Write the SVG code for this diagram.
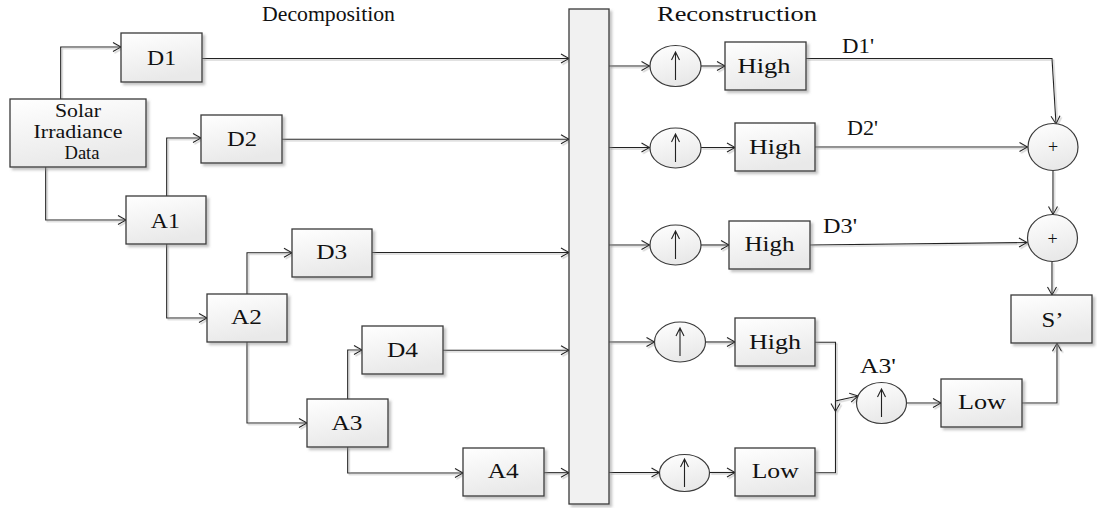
<svg xmlns="http://www.w3.org/2000/svg" xmlns:xlink="http://www.w3.org/1999/xlink" width="1097" height="508" viewBox="0 0 1097 508">
<style>
.box{fill:url(#g);stroke:#3a3a3a;stroke-width:1.3}
.bar{fill:#f1f1f1;stroke:#3a3a3a;stroke-width:1.3}
.circ{fill:url(#g);stroke:#3a3a3a;stroke-width:1.2}
.t{font-family:"Liberation Serif","Times New Roman",serif;font-size:21px;fill:#111;text-anchor:middle}
.ts{font-family:"Liberation Serif","Times New Roman",serif;font-size:18px;fill:#111;text-anchor:middle}
.h{font-family:"Liberation Serif","Times New Roman",serif;font-size:21px;fill:#111}
.c path{fill:none;stroke:#222;stroke-width:1.1}
.arr{fill:none;stroke:#222;stroke-width:1.1}
</style>
<defs>
<linearGradient id="g" x1="0" y1="0" x2="0.3" y2="1">
<stop offset="0" stop-color="#ffffff"/>
<stop offset="1" stop-color="#e9e9e9"/>
</linearGradient>
<filter id="sh" x="-10%" y="-10%" width="130%" height="130%">
<feDropShadow dx="2.5" dy="2.5" stdDeviation="0.8" flood-color="#888" flood-opacity="0.5"/>
</filter>
<filter id="lsh" x="-5%" y="-5%" width="110%" height="110%">
<feDropShadow dx="1.5" dy="1.5" stdDeviation="0.4" flood-color="#aaa" flood-opacity="0.7"/>
</filter>
<marker id="a" viewBox="-10 -6 12 12" refX="0" refY="0" markerWidth="12" markerHeight="12" markerUnits="userSpaceOnUse" orient="auto">
<path d="M-8,-4.5 L0,0 L-8,4.5" fill="none" stroke="#222" stroke-width="1.1"/>
</marker>
<g id="up"><path d="M0,14 V-14 M-4,-6 L0,-14 L4,-6" class="arr"/></g>
</defs>

<text class="h" x="262" y="21" textLength="133" lengthAdjust="spacingAndGlyphs">Decomposition</text>
<text class="h" x="657" y="21" textLength="160" lengthAdjust="spacingAndGlyphs">Reconstruction</text>

<g id="connectors" class="c" filter="url(#lsh)">
<path d="M60.7,99 V47 H121" marker-end="url(#a)"/>
<path d="M45.7,167 V220 H126" marker-end="url(#a)"/>
<path d="M166.7,196 V138 H201" marker-end="url(#a)"/>
<path d="M166.7,244 V318 H207" marker-end="url(#a)"/>
<path d="M247,294 V252.7 H292" marker-end="url(#a)"/>
<path d="M247,342 V423 H307" marker-end="url(#a)"/>
<path d="M347.7,399 V350 H362" marker-end="url(#a)"/>
<path d="M347.7,447 V473 H463" marker-end="url(#a)"/>
<path d="M202,58.5 H569" marker-end="url(#a)"/>
<path d="M282,139.3 H569" marker-end="url(#a)"/>
<path d="M372,252.5 H569" marker-end="url(#a)"/>
<path d="M443,350.3 H569" marker-end="url(#a)"/>
<path d="M544,472.7 H569" marker-end="url(#a)"/>
<path d="M609,66 H649.5" marker-end="url(#a)"/>
<path d="M609,147.5 H649.5" marker-end="url(#a)"/>
<path d="M609,245 H649.5" marker-end="url(#a)"/>
<path d="M609,342 H654.5" marker-end="url(#a)"/>
<path d="M609,472.5 H659.5" marker-end="url(#a)"/>
<path d="M700.5,66 H725" marker-end="url(#a)"/>
<path d="M700.5,147.5 H735" marker-end="url(#a)"/>
<path d="M700.5,245 H729" marker-end="url(#a)"/>
<path d="M705.5,342 H735" marker-end="url(#a)"/>
<path d="M709.5,472.5 H735" marker-end="url(#a)"/>
<path d="M806,58.5 H1052 L1056,124" marker-end="url(#a)"/>
<path d="M815,147 H1027.5" marker-end="url(#a)"/>
<path d="M810,245 L1027,242.5" marker-end="url(#a)"/>
<path d="M1053,170.5 V214.5" marker-end="url(#a)"/>
<path d="M1052,261.5 V295" marker-end="url(#a)"/>
<path d="M815,342.3 H835.5 V411.5" marker-end="url(#a)"/>
<path d="M815,472.7 H835.5 V401 L858,396" marker-end="url(#a)"/>
<path d="M906.5,403 H941" marker-end="url(#a)"/>
<path d="M1022,403 H1057 V343.3" marker-end="url(#a)"/>
</g>

<g id="solar"><rect class="box" filter="url(#sh)" x="10" y="99" width="136" height="68"/>
<text class="ts" x="78" y="117.3" textLength="46" lengthAdjust="spacingAndGlyphs">Solar</text>
<text class="ts" x="78" y="138.3" textLength="89" lengthAdjust="spacingAndGlyphs">Irradiance</text>
<text class="ts" x="82" y="159.3" textLength="35" lengthAdjust="spacingAndGlyphs">Data</text></g>
<g id="D1"><rect class="box" filter="url(#sh)" x="121" y="33" width="81" height="49"/><text class="t" x="161.5" y="65" textLength="29" lengthAdjust="spacingAndGlyphs">D1</text></g>
<g id="D2"><rect class="box" filter="url(#sh)" x="201" y="115" width="81" height="48"/><text class="t" x="242" y="145.7" textLength="30" lengthAdjust="spacingAndGlyphs">D2</text></g>
<g id="A1"><rect class="box" filter="url(#sh)" x="126" y="196" width="80" height="48"/><text class="t" x="165.3" y="227.5" textLength="29" lengthAdjust="spacingAndGlyphs">A1</text></g>
<g id="D3"><rect class="box" filter="url(#sh)" x="292" y="229" width="80" height="48"/><text class="t" x="331.7" y="259" textLength="31" lengthAdjust="spacingAndGlyphs">D3</text></g>
<g id="A2"><rect class="box" filter="url(#sh)" x="207" y="294" width="80" height="48"/><text class="t" x="246.5" y="324" textLength="31" lengthAdjust="spacingAndGlyphs">A2</text></g>
<g id="D4"><rect class="box" filter="url(#sh)" x="362" y="326" width="81" height="48"/><text class="t" x="402.5" y="356.7" textLength="31" lengthAdjust="spacingAndGlyphs">D4</text></g>
<g id="A3"><rect class="box" filter="url(#sh)" x="307" y="399" width="81" height="48"/><text class="t" x="347" y="430" textLength="31" lengthAdjust="spacingAndGlyphs">A3</text></g>
<g id="A4"><rect class="box" filter="url(#sh)" x="463" y="448" width="81" height="48"/><text class="t" x="503.3" y="478.3" textLength="31" lengthAdjust="spacingAndGlyphs">A4</text></g>

<g id="bar"><rect class="bar" filter="url(#sh)" x="569" y="9" width="40" height="495"/></g>

<g id="up1"><ellipse class="circ" cx="675.5" cy="66" rx="25.5" ry="20.5"/><use xlink:href="#up" x="675.5" y="66"/></g>
<g id="up2"><ellipse class="circ" cx="675.5" cy="148" rx="25.5" ry="20"/><use xlink:href="#up" x="675.5" y="148"/></g>
<g id="up3"><ellipse class="circ" cx="675.5" cy="245" rx="25.5" ry="20"/><use xlink:href="#up" x="675.5" y="245"/></g>
<g id="up4"><ellipse class="circ" cx="680" cy="342" rx="25.5" ry="20"/><use xlink:href="#up" x="680" y="342"/></g>
<g id="up5"><ellipse class="circ" cx="684.5" cy="473" rx="25" ry="18.5"/><use xlink:href="#up" x="684.5" y="473"/></g>
<g id="up6"><ellipse class="circ" cx="881.5" cy="403" rx="25" ry="20.5"/><use xlink:href="#up" x="881.5" y="403"/></g>

<g id="high1"><rect class="box" filter="url(#sh)" x="725" y="42" width="81" height="48"/><text class="t" x="764" y="73" textLength="53" lengthAdjust="spacingAndGlyphs">High</text></g>
<g id="high2"><rect class="box" filter="url(#sh)" x="735" y="123" width="80" height="48"/><text class="t" x="775" y="154" textLength="52" lengthAdjust="spacingAndGlyphs">High</text></g>
<g id="high3"><rect class="box" filter="url(#sh)" x="729" y="221" width="81" height="48"/><text class="t" x="769.5" y="251" textLength="50" lengthAdjust="spacingAndGlyphs">High</text></g>
<g id="high4"><rect class="box" filter="url(#sh)" x="735" y="318" width="80" height="48"/><text class="t" x="775" y="349" textLength="52" lengthAdjust="spacingAndGlyphs">High</text></g>
<g id="low1"><rect class="box" filter="url(#sh)" x="735" y="448" width="80" height="48"/><text class="t" x="775.2" y="478.3" textLength="47" lengthAdjust="spacingAndGlyphs">Low</text></g>
<g id="low2"><rect class="box" filter="url(#sh)" x="941" y="379" width="81" height="48"/><text class="t" x="982" y="409.3" textLength="48" lengthAdjust="spacingAndGlyphs">Low</text></g>

<g id="plus1"><ellipse class="circ" cx="1053" cy="147" rx="25" ry="23.5"/><text class="ts" x="1053" y="153">+</text></g>
<g id="plus2"><ellipse class="circ" cx="1052.5" cy="238" rx="25" ry="23.5"/><text class="ts" x="1052.5" y="244.5">+</text></g>
<g id="S"><rect class="box" filter="url(#sh)" x="1011" y="295" width="81" height="48"/><text class="t" x="1052.5" y="326.5" textLength="22" lengthAdjust="spacingAndGlyphs">S’</text></g>

<g id="labels">
<text class="h" x="842" y="53" textLength="32" lengthAdjust="spacingAndGlyphs">D1'</text>
<text class="h" x="847" y="135" textLength="31" lengthAdjust="spacingAndGlyphs">D2'</text>
<text class="h" x="823" y="233.3" textLength="34" lengthAdjust="spacingAndGlyphs">D3'</text>
<text class="h" x="860" y="372.7" textLength="36" lengthAdjust="spacingAndGlyphs">A3'</text>
</g>
</svg>
